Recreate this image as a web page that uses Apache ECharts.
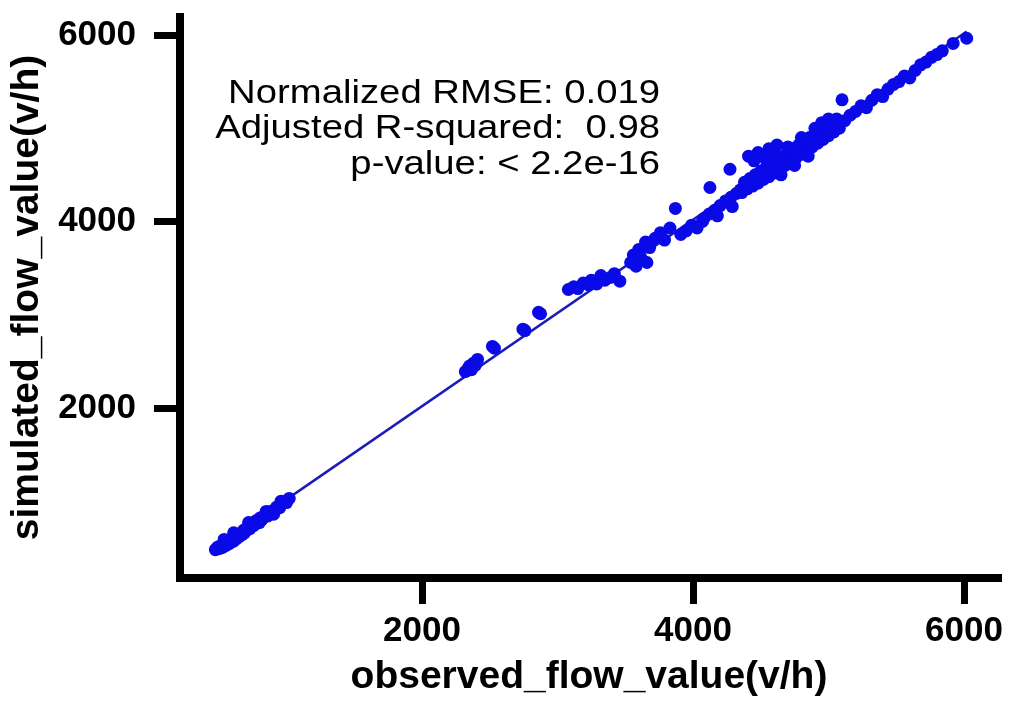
<!DOCTYPE html>
<html>
<head>
<meta charset="utf-8">
<script src="https://cdn.jsdelivr.net/npm/echarts@6/dist/echarts.min.js"></script>
<style>
  html, body { margin: 0; padding: 0; background: #fff; }
  #container1 { width: 1011px; height: 702px; }
</style>
</head>
<body>
<div id="container1"></div>
<script>
// observed vs simulated flow (v/h)
var observed = [
  475, 490, 500, 510, 520, 530, 540, 550, 560, 570, 580, 590, 600, 610, 620, 630, 640, 650, 660, 672,
  685, 700, 715, 730, 745, 760, 775, 790, 805, 820, 840, 860, 880, 900, 925, 950, 975, 1000, 1020,
  540, 610, 690, 720, 800, 850, 905, 960,
  2320, 2340, 2350, 2365, 2380, 2395, 2410, 2520, 2535, 2745, 2760, 2860, 2875,
  3080, 3120, 3150, 3190, 3230, 3250, 3290, 3320, 3350, 3390, 3420, 3460,
  3540, 3560, 3600, 3620, 3650, 3680, 3720, 3760, 3790, 3830, 3580, 3660, 3870,
  3910, 3950, 3990, 4030, 4070,
  4080, 4120, 4160, 4200, 4240, 4280, 4320, 4350, 4125, 4273, 4180, 4290,
  4410, 4450, 4480, 4520, 4560, 4600, 4620,
  4360, 4380, 4400, 4420, 4440, 4460, 4480, 4500, 4520, 4540, 4560, 4580, 4600, 4620, 4640, 4660,
  4680, 4700, 4720, 4740, 4760, 4780, 4800, 4820, 4840, 4860, 4880, 4900, 4920, 4940, 4960, 4980,
  5000, 5020, 5040, 5060, 5080, 4700, 4800, 4900, 4950, 5000, 4850, 4750, 4650,
  5100, 5120, 5160, 5200, 5240, 5280, 5320, 5360, 5400, 5440, 5480, 5520, 5560, 5600, 5640, 5680,
  5720, 5760, 5800, 5840, 5920, 6020
];
var simulated = [
  480, 505, 490, 520, 500, 530, 515, 545, 530, 560, 548, 575, 590, 570, 612, 598, 635, 620, 655, 640,
  690, 680, 720, 705, 750, 740, 790, 770, 820, 805, 850, 840, 890, 880, 935, 930, 995, 985, 1030,
  590, 660, 660, 770, 770, 890, 860, 1000,
  2390, 2420, 2450, 2410, 2480, 2460, 2520, 2660, 2640, 2845, 2830, 3025, 3010,
  3270, 3300, 3280, 3340, 3320, 3370, 3330, 3420, 3370, 3400, 3440, 3360,
  3560, 3640, 3700, 3600, 3780, 3720, 3820, 3880, 3800, 3930, 3520, 3560, 4140,
  3860, 3900, 3960, 3930, 4000,
  4030, 4080, 4120, 4170, 4220, 4260, 4300, 4340, 4364, 4560, 4060, 4160,
  4700, 4650, 4740, 4690, 4780, 4730, 4820,
  4310, 4420, 4350, 4460, 4380, 4500, 4410, 4540, 4450, 4580, 4480, 4620, 4520, 4660, 4560, 4700,
  4600, 4740, 4640, 4780, 4680, 4820, 4720, 4860, 4760, 4900, 4800, 4940, 4840, 4980, 4880, 5020,
  4920, 5060, 4960, 5100, 5000, 4800, 4900, 5000, 5060, 5100, 4700, 4600, 4500,
  5305, 5080, 5140, 5180, 5240, 5220, 5300, 5360, 5340, 5420, 5470, 5500, 5560, 5540, 5620, 5680,
  5710, 5760, 5790, 5830, 5910, 5965
];
var tickValues = [2000, 4000, 6000];
var statsLines = ['Normalized RMSE: 0.019', 'Adjusted R-squared:  0.98', 'p-value: < 2.2e-16'];

var points = observed.map(function (x, i) { return [x, simulated[i]]; });

// least squares fit line over the observed range
var n = observed.length, sx = 0, sy = 0, sxx = 0, sxy = 0;
for (var i = 0; i < n; i++) {
  sx += observed[i]; sy += simulated[i];
  sxx += observed[i] * observed[i]; sxy += observed[i] * simulated[i];
}
var slope = (n * sxy - sx * sy) / (n * sxx - sx * sx);
var intercept = (sy - slope * sx) / n;
var xLo = Math.min.apply(null, observed), xHi = Math.max.apply(null, observed);
var fitLine = [[xLo, intercept + slope * xLo], [xHi, intercept + slope * xHi]];

var myChart = echarts.init(document.getElementById('container1'));
var font = 'Liberation Sans, Arial, sans-serif';
var plain = function (v) { return String(v); };

var option = {
  backgroundColor: '#fff',
  animation: false,
  grid: { left: 180, right: 13, top: 17, bottom: 122.5, containLabel: false },
  xAxis: {
    type: 'value',
    min: 214,
    max: 6251,
    name: 'observed_flow_value(v/h)',
    nameLocation: 'middle',
    nameGap: 80,
    nameTextStyle: { fontFamily: font, fontWeight: 'bold', fontSize: 39, color: '#000' },
    axisLine: { show: true, lineStyle: { color: '#000', width: 8, cap: 'square' } },
    axisTick: { show: true, length: 26, customValues: tickValues, lineStyle: { color: '#000', width: 7 } },
    axisLabel: { customValues: tickValues, formatter: plain, margin: 36, fontFamily: font, fontWeight: 'bold', fontSize: 35, color: '#000' },
    splitLine: { show: false }
  },
  yAxis: {
    type: 'value',
    min: 176,
    max: 6193,
    name: 'simulated_flow_value(v/h)',
    nameLocation: 'middle',
    nameGap: 132,
    nameTextStyle: { fontFamily: font, fontWeight: 'bold', fontSize: 39, color: '#000' },
    axisLine: { show: true, lineStyle: { color: '#000', width: 8, cap: 'square' } },
    axisTick: { show: true, length: 26, customValues: tickValues, lineStyle: { color: '#000', width: 7 } },
    axisLabel: { customValues: tickValues, formatter: plain, margin: 44, fontFamily: font, fontWeight: 'bold', fontSize: 35, color: '#000' },
    splitLine: { show: false }
  },
  graphic: [{
    type: 'text',
    x: 660,
    y: 76,
    scaleX: 1.16,
    style: {
      text: statsLines.join('\n'),
      x: 0, y: 0,
      align: 'right',
      verticalAlign: 'top',
      fontFamily: font,
      fontSize: 33,
      lineHeight: 35.5,
      fill: '#000'
    }
  }],
  series: [
    {
      name: 'fit',
      type: 'line',
      data: fitLine,
      symbol: 'none',
      lineStyle: { color: '#1c1cb8', width: 2.5 },
      z: 2
    },
    {
      name: 'flow',
      type: 'scatter',
      data: points,
      symbol: 'circle',
      symbolSize: 13,
      itemStyle: { color: '#0a0ae8', opacity: 1 },
      z: 3
    }
  ]
};

if (option && typeof option === "object") {
  myChart.setOption(option, true);
}
</script>
</body>
</html>
